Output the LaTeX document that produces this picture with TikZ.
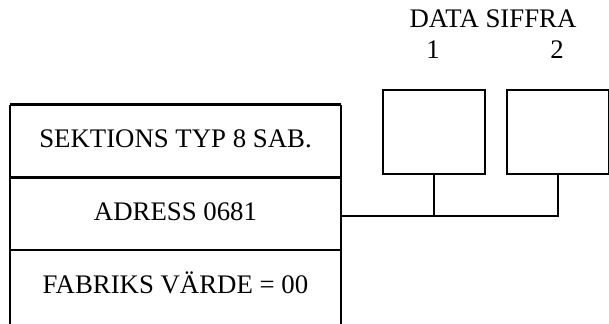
\documentclass[tikz,border=0pt]{standalone}
\usepackage{fontspec}
\setmainfont{Liberation Serif}
\usetikzlibrary{positioning}

\begin{document}
\begin{tikzpicture}[
  x=0.5pt, y=-0.5pt,
  node distance=0pt,
  every node/.style={font=\fontsize{13.4}{16}\selectfont},
  cell/.style={align=center, minimum width=165pt, minimum height=36pt, inner sep=0pt, text height=0.66em, text depth=0pt},
  digit/.style={draw, minimum width=51pt, minimum height=42pt, inner sep=0pt},
  wire/.style={line width=1.2pt}
]
\useasboundingbox (0,0) rectangle (609,324);
\coordinate (bottom) at (0,324);

% register cells
\node[cell] (sek) at (175.5,141) {SEKTIONS TYP 8 SAB.};
\node[cell, below=of sek] (adr) {ADRESS 0681};
\node[cell, below=of adr] (fab) {FABRIKS V\"ARDE = 00};

\draw[wire] (sek.north west) -- (sek.north east);
\draw[wire] (sek.south west) -- (sek.south east);
\draw[wire] (adr.south west) -- (adr.south east);
\draw[wire] (sek.north west) -- (sek.north west |- bottom);
\draw[wire] (sek.north east) -- (sek.north east |- bottom);

% data digits
\node[digit, wire] (d1) at (434,132) {};
\node[digit, wire] (d2) at (558,132) {};
\node (head) at (493,19) {DATA SIFFRA};
\node[text height=0.66em, text depth=0pt, inner sep=0pt] (n1) at (433,52) {1};
\node[text height=0.66em, text depth=0pt, inner sep=0pt] (n2) at (557,52) {2};

\coordinate (bus) at (0,216);
\draw[wire] (adr.east |- bus) -- (d2.south |- bus) -- (d2.south);
\draw[wire] (d1.south |- bus) -- (d1.south);
\end{tikzpicture}
\end{document}
